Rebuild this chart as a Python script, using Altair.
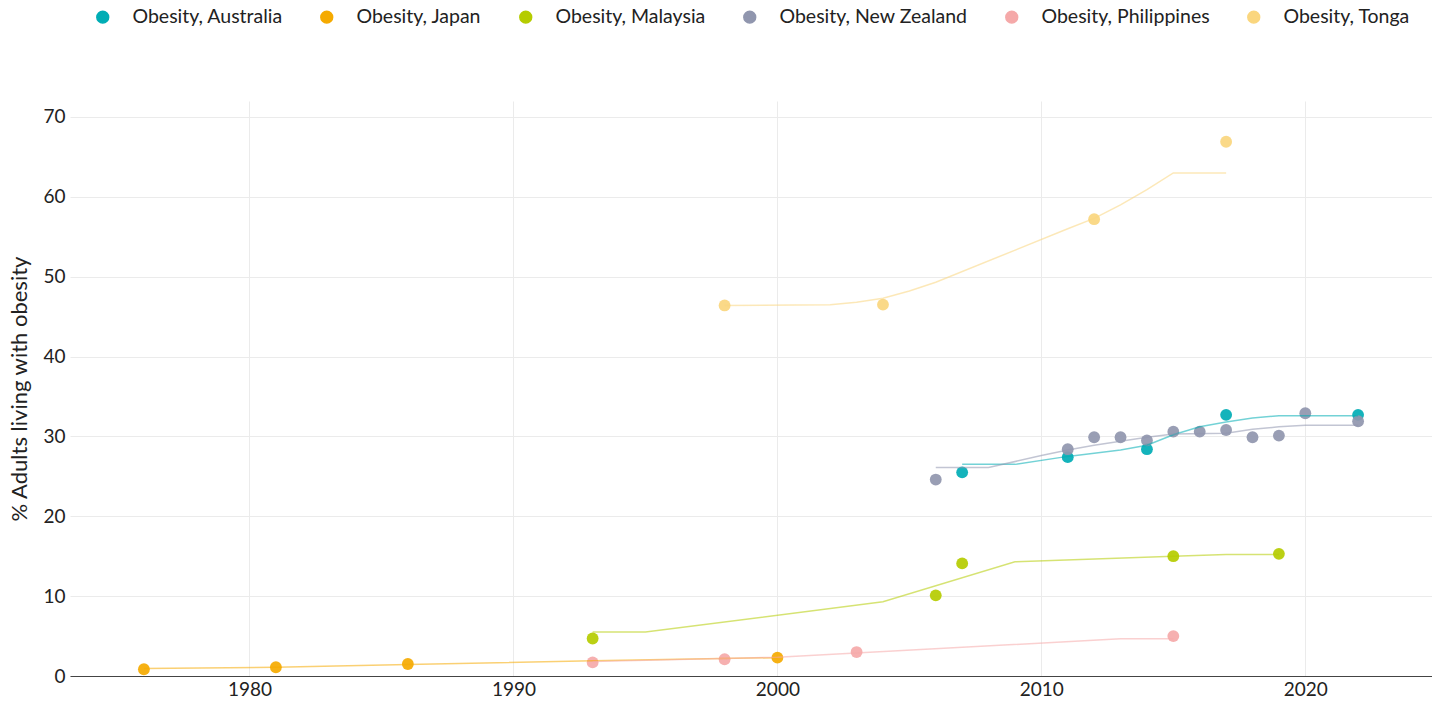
import altair as alt
import pandas as pd

series_names = ["Obesity, Australia", "Obesity, Japan", "Obesity, Malaysia",
                "Obesity, New Zealand", "Obesity, Philippines", "Obesity, Tonga"]
series_colors = ["#00ADB5", "#F5AA00", "#B5CC00", "#9096AE", "#F5A9A9", "#FAD67E"]

# observed points
aus_years = [2007, 2011, 2014, 2017, 2022]
aus_values = [25.5, 27.4, 28.4, 32.7, 32.7]
jpn_years = [1976, 1981, 1986, 2000]
jpn_values = [0.85, 1.1, 1.5, 2.3]
mys_years = [1993, 2006, 2007, 2015, 2019]
mys_values = [4.7, 10.1, 14.1, 15.0, 15.3]
nzl_years = [2006, 2011, 2012, 2013, 2014, 2015, 2016, 2017, 2018, 2019, 2020, 2022]
nzl_values = [24.6, 28.4, 29.9, 29.9, 29.5, 30.6, 30.6, 30.8, 29.9, 30.1, 32.9, 31.9]
phl_years = [1993, 1998, 2003, 2015]
phl_values = [1.7, 2.1, 3.0, 5.0]
ton_years = [1998, 2004, 2012, 2017]
ton_values = [46.4, 46.5, 57.2, 66.9]

# trend lines
aus_line_years = [2007, 2009, 2011, 2013, 2014, 2015, 2016, 2017, 2018, 2019, 2022]
aus_line_values = [26.5, 26.5, 27.5, 28.3, 28.9, 30.2, 31.2, 31.8, 32.3, 32.6, 32.6]
jpn_line_years = [1976, 1981, 1986, 1993, 2000]
jpn_line_values = [0.95, 1.1, 1.45, 1.9, 2.3]
mys_line_years = [1993, 1995, 2004, 2009, 2015, 2017, 2019]
mys_line_values = [5.5, 5.5, 9.3, 14.3, 15.0, 15.2, 15.2]
nzl_line_years = [2006, 2008, 2010, 2011, 2012, 2014, 2015, 2017, 2018, 2019, 2020, 2022]
nzl_line_values = [26.1, 26.1, 27.6, 28.3, 28.9, 29.9, 30.3, 30.4, 30.9, 31.2, 31.4, 31.4]
phl_line_years = [1993, 2000, 2013, 2015]
phl_line_values = [1.8, 2.35, 4.66, 4.66]
ton_line_years = [1998, 2002, 2003, 2004, 2005, 2006, 2011, 2012, 2013, 2014, 2015, 2017]
ton_line_values = [46.4, 46.5, 46.8, 47.3, 48.2, 49.3, 56.0, 57.3, 59.0, 60.9, 63.0, 63.0]

pts = [(aus_years, aus_values), (jpn_years, jpn_values), (mys_years, mys_values),
       (nzl_years, nzl_values), (phl_years, phl_values), (ton_years, ton_values)]
lns = [(aus_line_years, aus_line_values), (jpn_line_years, jpn_line_values),
       (mys_line_years, mys_line_values), (nzl_line_years, nzl_line_values),
       (phl_line_years, phl_line_values), (ton_line_years, ton_line_values)]

prow, lrow = [], []
for name, (ys, vs) in zip(series_names, pts):
    for y, v in zip(ys, vs):
        prow.append({"series": name, "year": y, "value": v})
for name, (ys, vs) in zip(series_names, lns):
    for y, v in zip(ys, vs):
        lrow.append({"series": name, "year": y, "value": v})
pdf = pd.DataFrame(prow)
ldf = pd.DataFrame(lrow)

FONT = "Lato"
color_scale = alt.Scale(domain=series_names, range=series_colors)
x_enc = alt.X("year:Q", scale=alt.Scale(domain=[1973.2, 2024.8], nice=False, zero=False),
              axis=alt.Axis(values=[1980, 1990, 2000, 2010, 2020], format="d", title=None,
                            grid=True, gridColor="#ebebeb", ticks=False,
                            domain=True, domainColor="#444444", domainWidth=1.2,
                            labelFontSize=19, labelColor="#222222", labelPadding=4,
                            labelFont=FONT))
y_enc = alt.Y("value:Q", scale=alt.Scale(domain=[0, 72], nice=False),
              axis=alt.Axis(values=[0, 10, 20, 30, 40, 50, 60, 70], title="% Adults living with obesity",
                            grid=True, gridColor="#ebebeb", ticks=False, domain=False,
                            labelFontSize=19, labelColor="#222222", labelPadding=5,
                            labelFont=FONT, titleFont=FONT, titleFontSize=22,
                            titleFontWeight="normal", titleColor="#222222", titlePadding=11))

lines = alt.Chart(ldf).mark_line(strokeWidth=1.5, opacity=0.55).encode(
    x=x_enc, y=y_enc,
    color=alt.Color("series:N", scale=color_scale, legend=None),
    detail="series:N",
    order="year:Q",
)
points = alt.Chart(pdf).mark_circle(size=140, opacity=0.92).encode(
    x=x_enc, y=y_enc,
    color=alt.Color("series:N", scale=color_scale,
                    legend=alt.Legend(title=None, orient="none", direction="horizontal",
                                      legendX=23, legendY=-94, columns=6,
                                      labelFont=FONT, labelFontSize=19.5, labelColor="#222222",
                                      labelLimit=400,
                                      symbolSize=140, symbolType="circle", symbolOpacity=1,
                                      labelOffset=20, columnPadding=34)),
)

chart = alt.layer(points, lines).properties(
    width=1362, height=575,
    autosize=alt.AutoSizeParams(type="none"),
    padding={"left": 62, "top": 93, "right": 0, "bottom": 22},
).configure_view(stroke=None)

chart.save("out.html", embed_options={"renderer": "svg", "actions": False})
